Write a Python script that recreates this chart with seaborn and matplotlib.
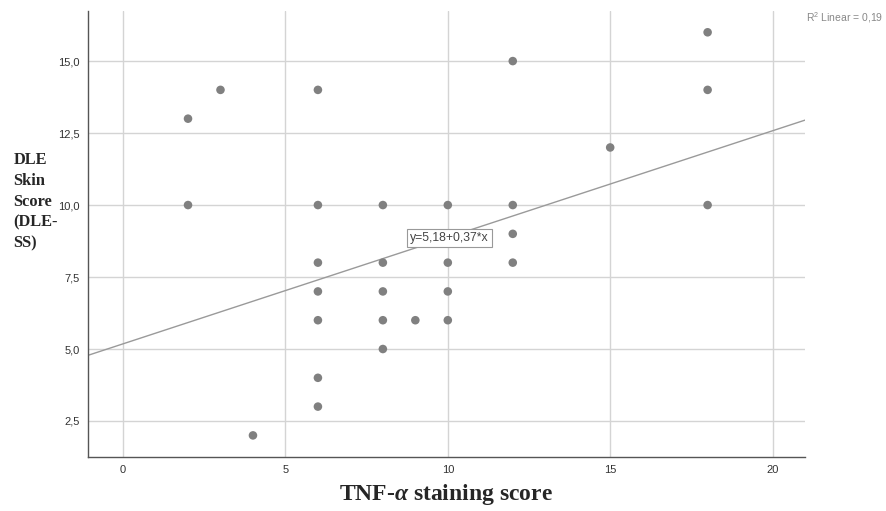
import numpy as np
import matplotlib
matplotlib.use("Agg")
import matplotlib.pyplot as plt
import seaborn as sns
import pandas as pd

# Data (TNF-alpha score vs DLE skin score)
tnf_score = [2, 2, 3, 4,
             6, 6, 6, 6, 6, 6, 6,
             8, 8, 8, 8, 8,
             9,
             10, 10, 10, 10,
             12, 12, 12, 12,
             15,
             18, 18, 18]
dle_ss = [13, 10, 14, 2,
          14, 10, 8, 7, 6, 4, 3,
          10, 8, 7, 6, 5,
          6,
          10, 8, 7, 6,
          15, 10, 9, 8,
          12,
          16, 14, 10]

# fit line as reported on the chart
intercept = 5.18
slope = 0.37
r2_text = "R$^2$ Linear = 0,19"
eq_text = "y=5,18+0,37*x"

x_ticks = [0, 5, 10, 15, 20]
y_ticks = [2.5, 5.0, 7.5, 10.0, 12.5, 15.0]

df = pd.DataFrame({"tnf": tnf_score, "dle": dle_ss})

sns.set_style("white")
plt.rcParams['font.family'] = ['Liberation Sans', 'DejaVu Sans']
plt.rcParams['mathtext.fontset'] = 'custom'
plt.rcParams['mathtext.it'] = 'Liberation Serif:italic:bold'
plt.rcParams['mathtext.rm'] = 'Liberation Sans'

fig = plt.figure(figsize=(8.87, 5.11), dpi=100)
ax = fig.add_axes([0.0992, 0.1057, 0.8084, 0.8728])

sns.scatterplot(data=df, x="tnf", y="dle", ax=ax, color="#808080",
                s=38, edgecolor="none", zorder=3)

ax.axline((0, intercept), slope=slope, color="#9a9a9a", lw=1.0, zorder=2)

ax.set_xlim(-1.08, 21.0)
ax.set_ylim(1.25, 16.74)
ax.set_xticks(x_ticks)
ax.set_yticks(y_ticks)
ax.set_xticklabels([str(t) for t in x_ticks], fontsize=8, color="#333333")
ax.set_yticklabels([f"{t:.1f}".replace(".", ",") for t in y_ticks],
                   fontsize=8, color="#333333")
ax.tick_params(length=0, pad=6)

ax.grid(True, color="#d4d4d4", lw=1.0, zorder=0)
ax.set_axisbelow(True)
for side in ["top", "right"]:
    ax.spines[side].set_visible(False)
for side in ["left", "bottom"]:
    ax.spines[side].set_color("#555555")
    ax.spines[side].set_linewidth(1.0)

ax.set_xlabel("")
ax.set_ylabel("")

# equation label box
ax.text(10.06, 8.85, eq_text, fontsize=8.8, color="#444444", ha="center",
        va="center", zorder=4,
        bbox=dict(boxstyle="square,pad=0.25", fc="white", ec="#999999", lw=0.8))

# R^2 note, top right outside axes
fig.text(0.909, 0.965, r2_text, fontsize=7.5, color="#888888", ha="left", va="center")

# axis titles in bold serif
fig.text(0.015, 0.605, "DLE\nSkin\nScore\n(DLE-\nSS)", fontsize=11.8,
         fontweight="bold", family="Liberation Serif", ha="left", va="center",
         linespacing=1.4)
fig.text(0.503, 0.033, "TNF-$\\mathit{\\alpha}$ staining score", fontsize=17,
         fontweight="bold", family="Liberation Serif", ha="center", va="center")

plt.savefig("out.png", dpi=100)
